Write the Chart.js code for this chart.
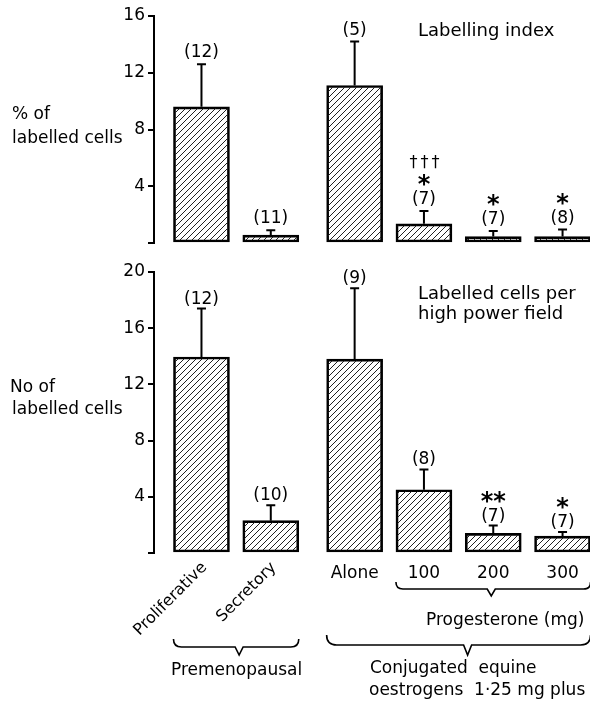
<!DOCTYPE html>
<html>
<head>
<meta charset="utf-8">
<script src="https://cdn.jsdelivr.net/npm/chart.js@4.4.1/dist/chart.umd.min.js"></script>
<style>
  html, body { margin: 0; padding: 0; background: #fff; }
  #wrap { position: relative; width: 590px; height: 705px; overflow: hidden; background: #fff; }
  #topChart { position: absolute; left: 0; top: 0; }
  #bottomChart { position: absolute; left: 0; top: 255px; }
</style>
</head>
<body>
<div id="wrap">
  <canvas id="topChart" width="590" height="260"></canvas>
  <canvas id="bottomChart" width="590" height="450"></canvas>
</div>
<script>
// ---- data ----
const categories = ['Proliferative', 'Secretory', 'Alone', '100', '200', '300'];
const groupOf = [0, 0, 1, 1, 1, 1];            // 0 = premenopausal, 1 = oestrogen-treated

const labellingIndex      = [9.6, 0.55, 11.1, 1.35, 0.45, 0.45];
const labellingIndexSEM   = [3.0, 0.35, 3.1, 0.9, 0.4, 0.5];
const labellingIndexN     = [12, 11, 5, 7, 7, 8];
const labellingIndexSig   = ['', '', '', '*', '*', '*'];
const labellingIndexDag   = ['', '', '', '†††', '', ''];

const cellsPerField       = [13.95, 2.3, 13.8, 4.5, 1.4, 1.2];
const cellsPerFieldSEM    = [3.45, 1.1, 5.05, 1.45, 0.55, 0.3];
const cellsPerFieldN      = [12, 10, 9, 8, 7, 7];
const cellsPerFieldSig    = ['', '', '', '', '**', '*'];

const topTickLabels    = ['', '4', '8', '12', '16'];
const bottomTickLabels = ['', '4', '8', '12', '16', '20'];

// ---- layout ----
const GROUP_GAP = 0.21;
const xPos = categories.map((c, i) => i + (groupOf[i] ? GROUP_GAP : 0));
const X_MIN = -0.685, X_MAX = 5.606;
const BAR_W = 56;
const FONT = "'DejaVu Sans', sans-serif";

Chart.defaults.font.family = FONT;
Chart.defaults.color = '#000';

function hatchPattern() {
  const c = document.createElement('canvas');
  c.width = 6; c.height = 6;
  const g = c.getContext('2d');
  g.strokeStyle = '#222';
  g.lineWidth = 1;
  g.beginPath();
  g.moveTo(0, 6); g.lineTo(6, 0);
  g.moveTo(-1, 1); g.lineTo(1, -1);
  g.moveTo(5, 7); g.lineTo(7, 5);
  g.stroke();
  return g.createPattern(c, 'repeat');
}

function drawText(ctx, str, x, y, font, align) {
  ctx.font = font;
  ctx.textAlign = align || 'center';
  ctx.textBaseline = 'alphabetic';
  const m = ctx.measureText(str);
  ctx.fillText(str, x, y + (m.actualBoundingBoxAscent - m.actualBoundingBoxDescent) / 2);
}

function plainText(ctx, str, x, y, font, align) {
  ctx.font = font;
  ctx.textAlign = align || 'left';
  ctx.textBaseline = 'alphabetic';
  ctx.fillText(str, x, y);
}

// error bars plus group size and significance marks above each bar
function errorBarPlugin(values, errors, nLabels, marks, nGap) {
  return {
    id: 'errorBars',
    afterDatasetsDraw(chart) {
      const ctx = chart.ctx;
      const y = chart.scales.y;
      const meta = chart.getDatasetMeta(0);
      ctx.save();
      ctx.strokeStyle = '#000';
      ctx.fillStyle = '#000';
      ctx.lineWidth = 2;
      meta.data.forEach((bar, i) => {
        const px = bar.x;
        const y0 = y.getPixelForValue(values[i]);
        const y1 = y.getPixelForValue(values[i] + errors[i]);
        ctx.beginPath();
        ctx.moveTo(px, y0); ctx.lineTo(px, y1);
        ctx.moveTo(px - 4.5, y1); ctx.lineTo(px + 4.5, y1);
        ctx.stroke();
        let ty = y1 - nGap;
        drawText(ctx, '(' + nLabels[i] + ')', px, ty, '17px ' + FONT);
        marks.forEach((row) => {
          const s = row[i];
          if (!s) return;
          ty -= 18;
          if (s.indexOf('*') >= 0) {
            drawText(ctx, s, px, ty, 'bold 24px ' + FONT);
          } else {
            ctx.letterSpacing = '3px';
            drawText(ctx, s, px + 2, ty, '16px ' + FONT);
            ctx.letterSpacing = '0px';
          }
        });
      });
      ctx.restore();
    }
  };
}

function yScale(max, tickLabels) {
  return {
    min: 0, max: max,
    afterFit(scale) { scale.width = 154; },
    ticks: {
      stepSize: 4,
      padding: 3,
      font: { size: 17, family: FONT },
      color: '#000',
      callback: (v, idx) => tickLabels[idx]
    },
    grid: {
      drawOnChartArea: false, drawTicks: true, tickLength: 6,
      color: '#000', lineWidth: 2
    },
    border: { display: true, color: '#000', width: 2 }
  };
}

function makeChart(canvas, values, yMax, tickLabels, padding, plugins) {
  return new Chart(canvas, {
    type: 'bar',
    data: {
      datasets: [{
        data: values.map((v, i) => ({ x: xPos[i], y: v })),
        backgroundColor: hatchPattern(),
        borderColor: '#000',
        borderWidth: 2,
        borderSkipped: false,
        barThickness: BAR_W
      }]
    },
    options: {
      responsive: false,
      animation: false,
      events: [],
      layout: { padding: padding },
      plugins: { legend: { display: false }, tooltip: { enabled: false } },
      scales: {
        x: { type: 'linear', min: X_MIN, max: X_MAX, offset: false, display: false,
             grid: { offset: false } },
        y: yScale(yMax, tickLabels)
      }
    },
    plugins: plugins
  });
}

// ---- top panel: labelling index ----
const topLabels = {
  id: 'topLabels',
  afterDraw(chart) {
    const ctx = chart.ctx;
    ctx.save();
    ctx.fillStyle = '#000';
    plainText(ctx, 'Labelling index', 418, 36, '18px ' + FONT);
    plainText(ctx, '% of', 12, 119, '17px ' + FONT);
    plainText(ctx, 'labelled cells', 12, 143, '17px ' + FONT);
    ctx.restore();
  }
};

makeChart(document.getElementById('topChart'), labellingIndex, 16, topTickLabels,
  { top: 16, bottom: 17, left: 0, right: 0 },
  [errorBarPlugin(labellingIndex, labellingIndexSEM, labellingIndexN,
    [labellingIndexSig, labellingIndexDag], 13), topLabels]);

// ---- bottom panel: labelled cells per high power field ----
function brace(ctx, x0, x1, yTip, yLine, xMid, yPoint) {
  const r = yLine - yTip;
  ctx.beginPath();
  ctx.moveTo(x0, yTip);
  ctx.quadraticCurveTo(x0, yLine, x0 + r, yLine);
  ctx.lineTo(xMid - 4, yLine);
  ctx.lineTo(xMid, yPoint);
  ctx.lineTo(xMid + 4, yLine);
  ctx.lineTo(x1 - r, yLine);
  ctx.quadraticCurveTo(x1, yLine, x1, yTip);
  ctx.stroke();
}

const bottomLabels = {
  id: 'bottomLabels',
  afterDraw(chart) {
    const ctx = chart.ctx;
    const base = chart.chartArea.bottom;
    const bars = chart.getDatasetMeta(0).data;
    const left = i => bars[i].x - BAR_W / 2;
    const right = i => bars[i].x + BAR_W / 2;
    ctx.save();
    ctx.fillStyle = '#000';
    ctx.strokeStyle = '#000';
    ctx.lineWidth = 1.6;

    plainText(ctx, 'Labelled cells per', 418, 44, '18px ' + FONT);
    plainText(ctx, 'high power field', 418, 64, '18px ' + FONT);
    plainText(ctx, 'No of', 10, 137, '17px ' + FONT);
    plainText(ctx, 'labelled cells', 12, 159, '17px ' + FONT);

    // category names: rotated for the premenopausal pair, level for the rest
    categories.forEach((name, i) => {
      if (groupOf[i] === 0) {
        ctx.save();
        ctx.translate(bars[i].x + 6, base + 15);
        ctx.rotate(-Math.PI / 4);
        plainText(ctx, name, 0, 0, '16px ' + FONT, 'right');
        ctx.restore();
      } else {
        plainText(ctx, name, bars[i].x, base + 25, '17px ' + FONT, 'center');
      }
    });

    // progesterone doses
    brace(ctx, left(3), right(5), base + 29, base + 36, (left(3) + right(5)) / 2 - 2, base + 43);
    plainText(ctx, 'Progesterone (mg)', 426, base + 72, '17px ' + FONT);

    // premenopausal
    brace(ctx, left(0), right(1), base + 86, base + 94, (left(0) + right(1)) / 2 + 3, base + 102);
    plainText(ctx, 'Premenopausal', 171, base + 122, '17px ' + FONT);

    // oestrogen-treated
    brace(ctx, left(2), right(5), base + 82, base + 92, (left(2) + right(5)) / 2 + 9, base + 102);
    plainText(ctx, 'Conjugated  equine', 370, base + 120, '17px ' + FONT);
    plainText(ctx, 'oestrogens  1·25 mg plus', 369, base + 142, '17px ' + FONT);
    ctx.restore();
  }
};

makeChart(document.getElementById('bottomChart'), cellsPerField, 20, bottomTickLabels,
  { top: 17, bottom: 152, left: 0, right: 0 },
  [errorBarPlugin(cellsPerField, cellsPerFieldSEM, cellsPerFieldN,
    [cellsPerFieldSig], 11), bottomLabels]);
</script>
</body>
</html>
